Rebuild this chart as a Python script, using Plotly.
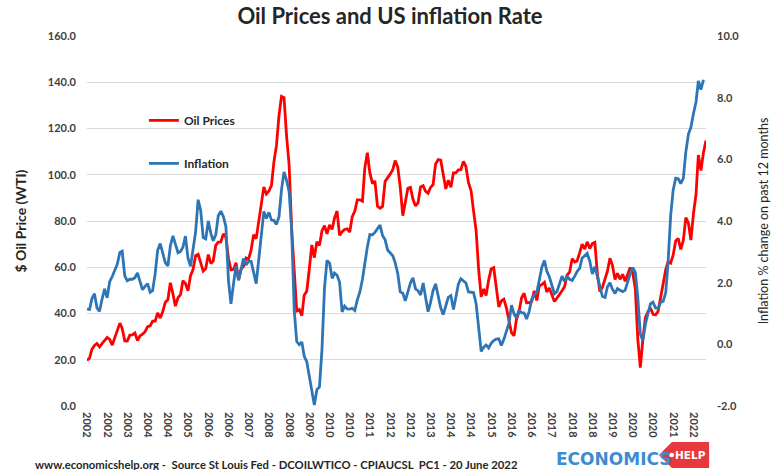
import plotly.graph_objects as go
import pandas as pd

# Monthly WTI crude oil price ($/barrel), Jan 2002 - Jun 2022
oil_prices = [
    19.71, 20.72, 24.53, 26.18, 27.04, 25.52, 26.97, 28.39, 29.66, 28.84, 26.35, 29.46,
    32.95, 35.83, 33.51, 28.17, 28.11, 30.66, 30.76, 31.57, 28.31, 30.34, 31.11, 32.13,
    34.31, 34.69, 36.74, 36.75, 40.28, 38.03, 40.78, 44.90, 45.94, 53.28, 48.47, 43.15,
    46.84, 48.15, 54.19, 52.98, 49.83, 56.35, 59.00, 64.99, 65.59, 62.26, 58.32, 59.41,
    65.49, 61.63, 62.69, 69.44, 70.84, 70.95, 74.41, 73.04, 63.80, 58.89, 59.08, 61.96,
    54.51, 59.28, 60.44, 63.98, 63.46, 67.49, 74.12, 72.36, 79.92, 85.80, 94.77, 91.69,
    92.97, 95.39, 105.45, 112.58, 125.40, 133.88, 133.37, 116.67, 104.11, 76.61, 57.31, 41.12,
    41.71, 39.09, 47.94, 49.65, 59.03, 69.64, 64.15, 71.05, 69.41, 75.72, 77.99, 74.47,
    78.33, 76.39, 81.20, 84.29, 73.74, 75.34, 76.32, 76.60, 75.24, 81.89, 84.25, 89.15,
    89.17, 88.58, 102.86, 109.53, 100.90, 96.26, 97.30, 86.33, 85.52, 86.32, 97.16, 98.56,
    100.27, 102.20, 106.16, 103.32, 94.66, 82.30, 87.90, 94.13, 94.51, 89.49, 86.53, 87.86,
    94.76, 95.31, 92.94, 92.02, 94.51, 95.77, 104.67, 106.57, 106.29, 100.54, 93.86, 97.63,
    94.62, 100.82, 100.80, 102.07, 102.18, 105.79, 103.59, 96.54, 93.21, 84.40, 75.79, 59.29,
    47.22, 50.58, 47.82, 54.45, 59.27, 59.82, 50.90, 42.87, 45.48, 46.22, 42.44, 37.19,
    31.68, 30.32, 37.55, 40.75, 46.71, 48.76, 44.65, 44.72, 45.18, 49.78, 45.66, 51.97,
    52.50, 53.47, 49.33, 51.06, 48.48, 45.18, 46.63, 48.04, 49.82, 51.58, 56.64, 57.88,
    63.70, 62.23, 62.73, 66.25, 69.98, 67.87, 70.98, 68.06, 70.23, 70.75, 56.96, 49.52,
    51.38, 54.95, 58.15, 63.86, 60.83, 54.66, 57.35, 54.81, 56.95, 53.96, 57.03, 59.88,
    57.52, 50.54, 29.21, 16.55, 28.56, 38.31, 40.71, 42.34, 39.63, 39.40, 40.94, 47.02,
    52.00, 59.04, 62.33, 61.72, 65.17, 71.38, 72.49, 67.73, 71.65, 81.48, 79.15, 71.71,
    83.22, 91.64, 108.50, 101.78, 109.55, 114.84,
]

# US CPI inflation, % change on 12 months earlier, Jan 2002 - May 2022
inflation = [
    1.14, 1.13, 1.48, 1.64, 1.18, 1.07, 1.46, 1.80, 1.51, 2.03, 2.20, 2.38,
    2.60, 2.98, 3.02, 2.22, 2.06, 2.11, 2.11, 2.16, 2.32, 2.04, 1.77, 1.88,
    1.97, 1.69, 1.74, 2.29, 3.05, 3.27, 2.99, 2.65, 2.54, 3.19, 3.52, 3.26,
    2.97, 3.01, 3.15, 3.51, 2.80, 2.53, 3.17, 3.64, 4.69, 4.35, 3.46, 3.42,
    4.00, 3.60, 3.36, 3.55, 4.17, 4.32, 4.15, 3.82, 2.06, 1.31, 1.97, 2.54,
    2.08, 2.42, 2.78, 2.57, 2.69, 2.69, 2.36, 1.97, 2.76, 3.54, 4.31, 4.08,
    4.28, 4.03, 4.02, 3.89, 4.13, 5.02, 5.59, 5.32, 4.94, 3.71, 1.11, 0.09,
    -0.01, 0.08, -0.38, -0.56, -1.01, -1.42, -1.97, -1.47, -1.38, -0.18, 1.84, 2.72,
    2.63, 2.14, 2.31, 2.24, 2.02, 1.05, 1.24, 1.15, 1.14, 1.17, 1.10, 1.44,
    1.70, 2.11, 2.68, 3.16, 3.56, 3.55, 3.63, 3.77, 3.87, 3.53, 3.39, 3.06,
    2.96, 2.87, 2.65, 2.30, 1.70, 1.66, 1.41, 1.69, 1.99, 2.16, 1.80, 1.74,
    1.60, 1.99, 1.47, 1.06, 1.36, 1.75, 1.96, 1.52, 1.18, 0.96, 1.24, 1.52,
    1.58, 1.13, 1.51, 1.95, 2.13, 2.07, 1.99, 1.70, 1.70, 1.68, 1.32, 0.65,
    -0.23, -0.09, -0.02, -0.12, 0.03, 0.12, 0.17, 0.18, -0.04, 0.16, 0.44, 0.68,
    1.27, 0.99, 0.86, 1.12, 1.02, 1.02, 0.82, 1.07, 1.46, 1.61, 1.68, 2.05,
    2.50, 2.72, 2.38, 2.19, 1.88, 1.64, 1.71, 1.93, 2.21, 2.04, 2.20, 2.11,
    2.07, 2.21, 2.36, 2.46, 2.80, 2.87, 2.95, 2.70, 2.28, 2.52, 2.18, 1.91,
    1.55, 1.52, 1.86, 2.00, 1.79, 1.65, 1.81, 1.75, 1.71, 1.76, 2.05, 2.29,
    2.49, 2.33, 1.54, 0.33, 0.12, 0.65, 0.99, 1.31, 1.37, 1.18, 1.17, 1.36,
    1.40, 1.68, 2.64, 4.16, 4.99, 5.39, 5.37, 5.21, 5.39, 6.24, 6.81, 7.04,
    7.48, 7.87, 8.54, 8.26, 8.58,
]

oil_dates = pd.date_range("2002-01-01", periods=len(oil_prices), freq="MS")
infl_dates = pd.date_range("2002-01-01", periods=len(inflation), freq="MS")

# x tick labels every 8 months (category-style labels showing the year)
tick_dates = pd.date_range("2002-01-01", "2022-01-01", freq="8MS")
tick_labels = [str(d.year) for d in tick_dates]

left_ticks = [0, 20, 40, 60, 80, 100, 120, 140, 160]
right_ticks = [-2, 0, 2, 4, 6, 8, 10]

RED = "#ff0000"
BLUE = "#2e75b6"
FONT = "Lato"

fig = go.Figure()
fig.add_trace(go.Scatter(
    x=oil_dates, y=oil_prices, name="Oil Prices", mode="lines",
    line=dict(color=RED, width=2.8), yaxis="y", legendgroup="a",
))
fig.add_trace(go.Scatter(
    x=infl_dates, y=inflation, name="Inflation", mode="lines",
    line=dict(color=BLUE, width=2.8), yaxis="y2", legendgroup="b",
))

fig.update_layout(
    width=780, height=470,
    margin=dict(l=87, r=60, t=36, b=64),
    paper_bgcolor="white", plot_bgcolor="white",
    font=dict(family=FONT, color="#404040"),
    title=dict(text="<b>Oil Prices and US inflation Rate</b>", x=0.5, xanchor="center",
               y=0.965, yanchor="middle", font=dict(size=22, color="#262626", family=FONT)),
    showlegend=True,
    legend=dict(x=0.092, y=0.714, xanchor="left", yanchor="middle",
                bgcolor="rgba(0,0,0,0)", tracegroupgap=24, traceorder="grouped",
                font=dict(size=12, color="#262626", family=FONT, weight="bold"), itemwidth=30),
    xaxis=dict(
        range=[oil_dates[0], oil_dates[-1]],
        tickvals=tick_dates, ticktext=[f"<b>{t}</b>" for t in tick_labels],
        tickangle=90, tickfont=dict(size=11, color="#404040"),
        showgrid=False, showline=False, zeroline=False, ticks="",
        ticklabelstandoff=5,
    ),
    yaxis=dict(
        range=[0, 160], tickvals=left_ticks,
        ticktext=[f"<b>{v:.1f}</b>" for v in left_ticks],
        tickfont=dict(size=11, color="#404040"),
        showgrid=True, gridcolor="#d9d9d9", gridwidth=1.3,
        zeroline=False, showline=False, ticks="",
        ticklabelstandoff=10,
        title=dict(text="<b>$ Oil Price (WTI)</b>", font=dict(size=14, color="#262626"), standoff=17),
    ),
    yaxis2=dict(
        range=[-2, 10], tickvals=right_ticks, overlaying="y", side="right",
        ticktext=[f"<b>{v:.1f}</b>" for v in right_ticks],
        tickfont=dict(size=11, color="#404040"),
        showgrid=False, zeroline=False, showline=False, ticks="",
        ticklabelstandoff=10,
        title=dict(text="Inflation % change on past 12 months",
                   font=dict(size=12.5, color="#262626"), standoff=20),
    ),
)

# footer
fig.add_annotation(
    text="<b>www.economicshelp.org -  Source St Louis Fed - DCOILWTICO - CPIAUCSL  PC1 - 20 June 2022</b>",
    xref="paper", yref="paper", x=-87/633, y=-0.003, xanchor="left", yanchor="middle",
    yshift=-57, xshift=31, showarrow=False, font=dict(size=11.3, color="#262626", family=FONT),
)

# logo
fig.add_annotation(
    text="<b>ECONOMICS</b>", xref="paper", yref="paper", x=0.0, y=0.0,
    xanchor="left", yanchor="middle", xshift=467, yshift=-53, showarrow=False,
    font=dict(size=17, color="#3d8ccf", family="DejaVu Sans"),
)
fig.add_shape(
    type="path", xref="paper", yref="paper",
    path="M 0.924 -0.1324 L 0.945 -0.0973 L 1.005 -0.0973 L 1.005 -0.1676 L 0.945 -0.1676 Z",
    fillcolor="#e8383d", line=dict(width=0),
)
fig.add_shape(type="circle", xref="paper", yref="paper",
              x0=0.9405, x1=0.9485, y0=-0.1385, y1=-0.1265,
              fillcolor="white", line=dict(width=0))
fig.add_annotation(
    text="<b>HELP</b>", xref="paper", yref="paper", x=0.975, y=-0.1324,
    xanchor="center", yanchor="middle", showarrow=False,
    font=dict(size=10.5, color="white", family="DejaVu Sans"),
)

fig.write_html("out.html")
